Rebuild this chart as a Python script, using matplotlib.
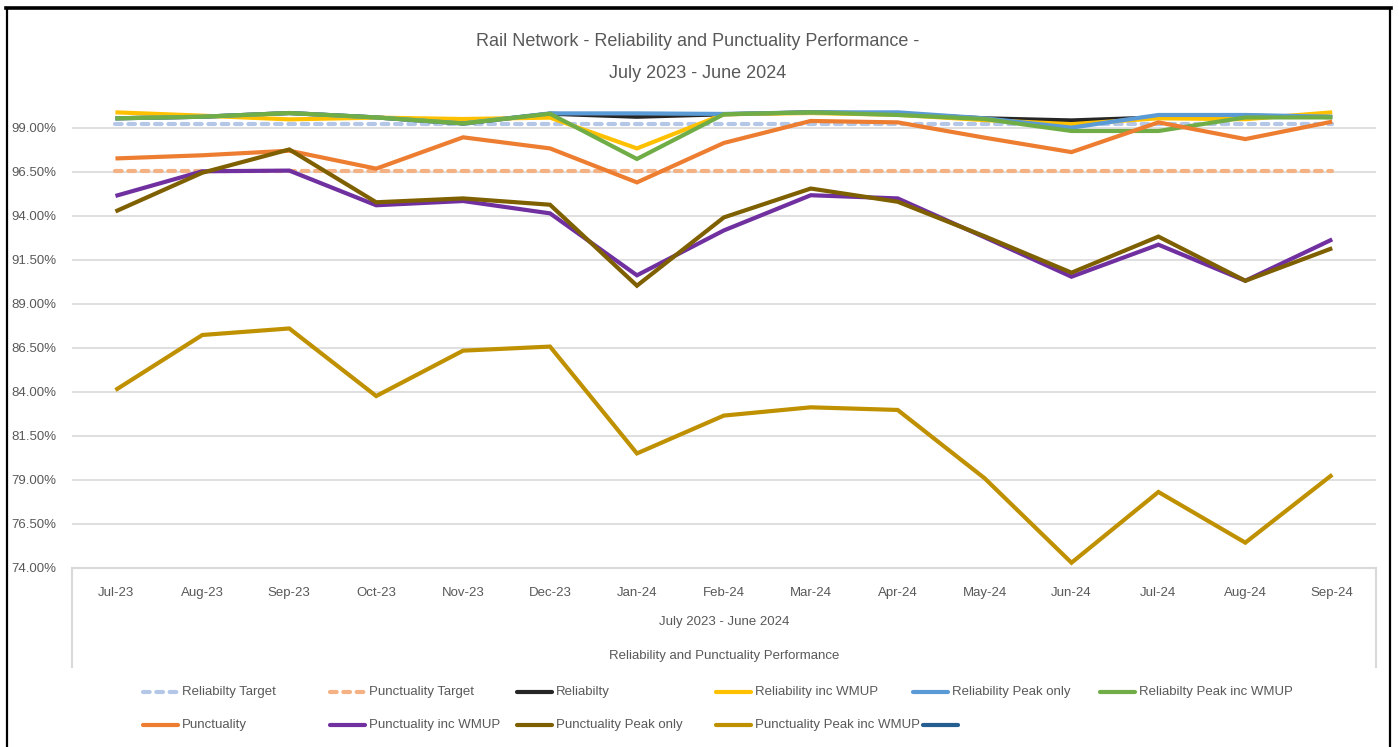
import matplotlib
matplotlib.use("Agg")
import matplotlib.pyplot as plt
from matplotlib import font_manager
from matplotlib.lines import Line2D

# ---------------- data ----------------
months = ["Jul-23", "Aug-23", "Sep-23", "Oct-23", "Nov-23", "Dec-23", "Jan-24",
          "Feb-24", "Mar-24", "Apr-24", "May-24", "Jun-24", "Jul-24", "Aug-24", "Sep-24"]

reliability_target = [99.25] * 15
punctuality_target = [96.55] * 15
reliability = [99.55, 99.64, 99.85, 99.60, 99.26, 99.81, 99.64, 99.78, 99.89, 99.80,
               99.55, 99.43, 99.60, 99.70, 99.62]
reliability_wmup = [99.89, 99.70, 99.49, 99.59, 99.51, 99.59, 97.84, 99.78, 99.85, 99.75,
                    99.45, 99.22, 99.55, 99.50, 99.89]
reliability_peak = [99.55, 99.64, 99.85, 99.60, 99.26, 99.83, 99.83, 99.80, 99.89, 99.89,
                    99.55, 99.02, 99.74, 99.74, 99.64]
reliability_peak_wmup = [99.55, 99.64, 99.85, 99.60, 99.26, 99.81, 97.24, 99.78, 99.89, 99.74,
                         99.51, 98.83, 98.83, 99.60, 99.60]
punctuality = [97.27, 97.45, 97.71, 96.69, 98.47, 97.84, 95.91, 98.15, 99.40, 99.32,
               98.45, 97.63, 99.32, 98.37, 99.36]
punctuality_wmup = [95.14, 96.54, 96.58, 94.61, 94.85, 94.15, 90.63, 93.18, 95.18, 95.00,
                    92.79, 90.55, 92.37, 90.32, 92.67]
punctuality_peak = [94.26, 96.46, 97.78, 94.78, 95.00, 94.64, 90.04, 93.92, 95.56, 94.81,
                    92.85, 90.78, 92.83, 90.32, 92.17]
punctuality_peak_wmup = [84.11, 87.24, 87.61, 83.77, 86.35, 86.58, 80.51, 82.66, 83.13, 82.98,
                         79.10, 74.30, 78.32, 75.44, 79.30]
yticks = [74.0, 76.5, 79.0, 81.5, 84.0, 86.5, 89.0, 91.5, 94.0, 96.5, 99.0]

title_lines = ["Rail Network - Reliability and Punctuality Performance -", "July 2023 - June 2024"]
axis_level2 = "July 2023 - June 2024"
axis_level3 = "Reliability and Punctuality Performance"

# ---------------- fonts ----------------
avail = {f.name for f in font_manager.fontManager.ttflist}
for cand in ["Liberation Sans Narrow", "Liberation Sans", "DejaVu Sans"]:
    if cand in avail:
        FONT = cand
        break
plt.rcParams["font.family"] = [FONT, "DejaVu Sans"]

GRAY = "#595959"
W, H = 1399, 747
fig = plt.figure(figsize=(W / 100, H / 100), dpi=100)
fig.patch.set_facecolor("white")

ax_l, ax_r = 72 / W, 1375.7 / W
ax_b, ax_t = 1 - 568 / H, 1 - 110.4 / H
ax = fig.add_axes([ax_l, ax_b, ax_r - ax_l, ax_t - ax_b])
ax.set_facecolor("white")

x = list(range(len(months)))
LW = 3.0
DASH = (0, (1.6, 1.6))
series = [
    ("Reliabilty Target", reliability_target, "#B4C7E7", "dash"),
    ("Punctuality Target", punctuality_target, "#F4B183", "dash"),
    ("Reliabilty", reliability, "#262626", "solid"),
    ("Reliability inc WMUP", reliability_wmup, "#FFC000", "solid"),
    ("Reliability Peak only", reliability_peak, "#5B9BD5", "solid"),
    ("Reliabilty Peak inc WMUP", reliability_peak_wmup, "#70AD47", "solid"),
    ("Punctuality", punctuality, "#ED7D31", "solid"),
    ("Punctuality inc WMUP", punctuality_wmup, "#7030A0", "solid"),
    ("Punctuality Peak only", punctuality_peak, "#7F6000", "solid"),
    ("Punctuality Peak inc WMUP", punctuality_peak_wmup, "#BF9000", "solid"),
]
style_of = {}
for i, (name, vals, col, style) in enumerate(series):
    if style == "dash":
        ax.plot(x, vals, color=col, lw=LW, linestyle=DASH, dash_capstyle="round",
                zorder=2 + i * 0.1, clip_on=False)
    else:
        ax.plot(x, vals, color=col, lw=LW, solid_joinstyle="miter",
                solid_capstyle="butt", zorder=2 + i * 0.1, clip_on=False)
    style_of[name] = (col, style)
style_of[" "] = ("#255E91", "solid")

ax.set_xlim(-0.5, len(months) - 0.5)
ax.set_ylim(74, 100)
ax.set_yticks(yticks)
ax.set_yticklabels([f"{v:.2f}%" for v in yticks])
ax.set_xticks(x)
ax.set_xticklabels(months)
ax.tick_params(axis="both", length=0, colors=GRAY, labelsize=9.5)
ax.tick_params(axis="y", pad=11)
ax.tick_params(axis="x", pad=14)
ax.yaxis.grid(True, color="#D9D9D9", lw=1.2, zorder=0)
ax.set_axisbelow(True)
for s in ["top", "left", "right"]:
    ax.spines[s].set_visible(False)
ax.spines["bottom"].set_color("#D9D9D9")
ax.spines["bottom"].set_linewidth(1.5)

# category-axis box sides
depth = -(667 - 568) / (568 - 110.4)
for xa in (0, 1):
    ax.plot([xa, xa], [0, depth], transform=ax.transAxes, color="#D9D9D9", lw=1.5,
            clip_on=False, zorder=1)

cx = (ax_l + ax_r) / 2
fig.text(cx, 1 - 622 / H, axis_level2, ha="center", va="center", color=GRAY, fontsize=9.5)
fig.text(cx, 1 - 656 / H, axis_level3, ha="center", va="center", color=GRAY, fontsize=9.5)

fig.text(0.4985, 1 - 42 / H, title_lines[0], ha="center", va="center", color=GRAY, fontsize=13)
fig.text(0.4985, 1 - 73 / H, title_lines[1], ha="center", va="center", color=GRAY, fontsize=13)

# legend, laid out row by row like the original
legend_rows = [
    ["Reliabilty Target", "Punctuality Target", "Reliabilty", "Reliability inc WMUP",
     "Reliability Peak only", "Reliabilty Peak inc WMUP"],
    ["Punctuality", "Punctuality inc WMUP", "Punctuality Peak only", "Punctuality Peak inc WMUP", " "],
]
col_x = [143, 330, 517, 716, 913, 1100]
row_y = [692, 725]
HL = 35
renderer = fig.canvas.get_renderer()
for r, row in enumerate(legend_rows):
    yy = 1 - row_y[r] / H
    prev_end = None
    for c, name in enumerate(row):
        col, style = style_of[name]
        x0 = col_x[c]
        if name == " " and prev_end is not None:
            x0 = prev_end + 3
        ls = DASH if style == "dash" else "-"
        fig.add_artist(Line2D([x0 / W, (x0 + HL) / W], [yy, yy], color=col, lw=LW,
                              linestyle=ls, dash_capstyle="round", solid_capstyle="round",
                              transform=fig.transFigure))
        if name.strip():
            t = fig.text((x0 + HL + 4) / W, yy, name, ha="left", va="center", color=GRAY,
                         fontsize=9.5)
            bb = t.get_window_extent(renderer=renderer)
            prev_end = bb.x1

# outer border
fig.add_artist(Line2D([7 / W, 7 / W], [-0.1, 1 - 8 / H], color="black", lw=1.6,
                      transform=fig.transFigure))
fig.add_artist(Line2D([1390 / W, 1390 / W], [-0.1, 1 - 8 / H], color="black", lw=1.6,
                      transform=fig.transFigure))
fig.add_artist(Line2D([6 / W, 1391 / W], [1 - 8 / H, 1 - 8 / H], color="black", lw=2.6,
                      transform=fig.transFigure))

fig.savefig("out.png", dpi=100, facecolor="white")
